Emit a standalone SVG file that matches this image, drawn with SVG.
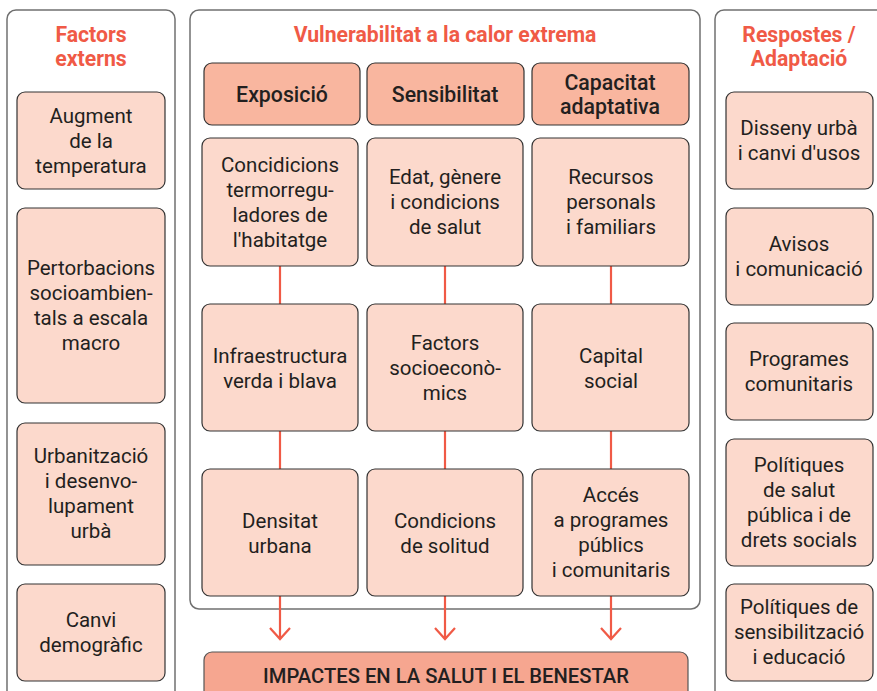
<svg xmlns="http://www.w3.org/2000/svg" width="877" height="691" viewBox="0 0 877 691">
<defs>
<style>
.panel{fill:#fff;stroke:#707070;stroke-width:1.5}
.box{fill:#fcd9cc;stroke:#333;stroke-width:1.2}
.head{fill:#f9b69f;stroke:#333;stroke-width:1.2}
.imp{fill:#f6a690;stroke:#555;stroke-width:1.2}
.t{font-family:Roboto,"Liberation Sans",sans-serif;font-size:20.5px;fill:#231f20;text-anchor:middle}
.h{font-family:Roboto,"Liberation Sans",sans-serif;font-size:21.3px;font-weight:500;fill:#231f20;text-anchor:middle}
.ttl{font-family:Roboto,"Liberation Sans",sans-serif;font-size:21.2px;font-weight:bold;fill:#f05a46;text-anchor:middle}
.ln{stroke:#f05a46;stroke-width:2.2;fill:none}
</style>
</defs>
<rect width="877" height="691" fill="#fff"/>
<g id="panel-left">
<rect class="panel" x="7" y="10" width="168" height="700" rx="9"/>
<text class="ttl" x="91" y="42">Factors</text>
<text class="ttl" x="91" y="66">externs</text>
</g>
<g id="panel-mid">
<rect class="panel" x="190" y="10" width="510" height="599" rx="9"/>
<text class="ttl" x="445" y="42">Vulnerabilitat a la calor extrema</text>
</g>
<g id="panel-right">
<rect class="panel" x="715" y="10" width="180" height="700" rx="9"/>
<text class="ttl" x="799" y="42">Respostes /</text>
<text class="ttl" x="799" y="66">Adaptació</text>
</g>
<g id="connectors">
<line class="ln" x1="280" y1="266" x2="280" y2="304"/>
<line class="ln" x1="445" y1="266" x2="445" y2="304"/>
<line class="ln" x1="611" y1="266" x2="611" y2="304"/>
<line class="ln" x1="280" y1="431" x2="280" y2="469"/>
<line class="ln" x1="445" y1="431" x2="445" y2="469"/>
<line class="ln" x1="611" y1="431" x2="611" y2="469"/>
<path class="ln" d="M280 596V639M270 628L280 639L290 628"/>
<path class="ln" d="M445 596V639M435 628L445 639L455 628"/>
<path class="ln" d="M611 596V639M601 628L611 639L621 628"/>
</g>
<g id="l1"><rect class="box" x="17" y="92" width="148" height="97" rx="8"/>
<text class="t" x="91" y="123">Augment</text><text class="t" x="91" y="148">de la</text><text class="t" x="91" y="173">temperatura</text></g>
<g id="l2"><rect class="box" x="17" y="208" width="148" height="195" rx="8"/>
<text class="t" x="91" y="275">Pertorbacions</text><text class="t" x="91" y="300">socioambien-</text><text class="t" x="91" y="325">tals a escala</text><text class="t" x="91" y="350">macro</text></g>
<g id="l3"><rect class="box" x="17" y="423" width="148" height="142" rx="8"/>
<text class="t" x="91" y="463">Urbanització</text><text class="t" x="91" y="488">i desenvo-</text><text class="t" x="91" y="513">lupament</text><text class="t" x="91" y="538">urbà</text></g>
<g id="l4"><rect class="box" x="17" y="584" width="148" height="97" rx="8"/>
<text class="t" x="91" y="627">Canvi</text><text class="t" x="91" y="652">demogràfic</text></g>

<g id="h1"><rect class="head" x="204" y="63" width="156" height="62" rx="8"/>
<text class="h" x="282" y="102">Exposició</text></g>
<g id="h2"><rect class="head" x="367" y="63" width="157" height="62" rx="8"/>
<text class="h" x="445" y="102">Sensibilitat</text></g>
<g id="h3"><rect class="head" x="532" y="63" width="157" height="62" rx="8"/>
<text class="h" x="610" y="90">Capacitat</text><text class="h" x="610" y="114">adaptativa</text></g>

<g id="m11"><rect class="box" x="202" y="138" width="156" height="128" rx="8"/>
<text class="t" x="280" y="172">Concidicions</text><text class="t" x="280" y="197">termorregu-</text><text class="t" x="280" y="222">ladores de</text><text class="t" x="280" y="247">l'habitatge</text></g>
<g id="m12"><rect class="box" x="367" y="138" width="156" height="128" rx="8"/>
<text class="t" x="445" y="184">Edat, gènere</text><text class="t" x="445" y="209">i condicions</text><text class="t" x="445" y="234">de salut</text></g>
<g id="m13"><rect class="box" x="532" y="138" width="157" height="128" rx="8"/>
<text class="t" x="611" y="184">Recursos</text><text class="t" x="611" y="209">personals</text><text class="t" x="611" y="234">i familiars</text></g>

<g id="m21"><rect class="box" x="202" y="304" width="156" height="127" rx="8"/>
<text class="t" x="280" y="363">Infraestructura</text><text class="t" x="280" y="388">verda i blava</text></g>
<g id="m22"><rect class="box" x="367" y="304" width="156" height="127" rx="8"/>
<text class="t" x="445" y="350">Factors</text><text class="t" x="445" y="375">socioeconò-</text><text class="t" x="445" y="400">mics</text></g>
<g id="m23"><rect class="box" x="532" y="304" width="157" height="127" rx="8"/>
<text class="t" x="611" y="363">Capital</text><text class="t" x="611" y="388">social</text></g>

<g id="m31"><rect class="box" x="202" y="469" width="156" height="127" rx="8"/>
<text class="t" x="280" y="528">Densitat</text><text class="t" x="280" y="553">urbana</text></g>
<g id="m32"><rect class="box" x="367" y="469" width="156" height="127" rx="8"/>
<text class="t" x="445" y="528">Condicions</text><text class="t" x="445" y="553">de solitud</text></g>
<g id="m33"><rect class="box" x="532" y="469" width="157" height="127" rx="8"/>
<text class="t" x="611" y="502">Accés</text><text class="t" x="611" y="527">a programes</text><text class="t" x="611" y="552">públics</text><text class="t" x="611" y="577">i comunitaris</text></g>

<g id="impact"><rect class="imp" x="204" y="652" width="484" height="60" rx="8"/>
<text class="h" x="446" y="683" style="font-size:20.2px">IMPACTES EN LA SALUT I EL BENESTAR</text></g>

<g id="r1"><rect class="box" x="726" y="92" width="147" height="97" rx="8"/>
<text class="t" x="799" y="135">Disseny urbà</text><text class="t" x="799" y="160">i canvi d'usos</text></g>
<g id="r2"><rect class="box" x="726" y="208" width="147" height="97" rx="8"/>
<text class="t" x="799" y="251">Avisos</text><text class="t" x="799" y="276">i comunicació</text></g>
<g id="r3"><rect class="box" x="726" y="323" width="147" height="97" rx="8"/>
<text class="t" x="799" y="366">Programes</text><text class="t" x="799" y="391">comunitaris</text></g>
<g id="r4"><rect class="box" x="726" y="439" width="147" height="127" rx="8"/>
<text class="t" x="799" y="472">Polítiques</text><text class="t" x="799" y="497">de salut</text><text class="t" x="799" y="522">pública i de</text><text class="t" x="799" y="547">drets socials</text></g>
<g id="r5"><rect class="box" x="726" y="584" width="147" height="97" rx="8"/>
<text class="t" x="799" y="614">Polítiques de</text><text class="t" x="799" y="639">sensibilització</text><text class="t" x="799" y="664">i educació</text></g>
</svg>
